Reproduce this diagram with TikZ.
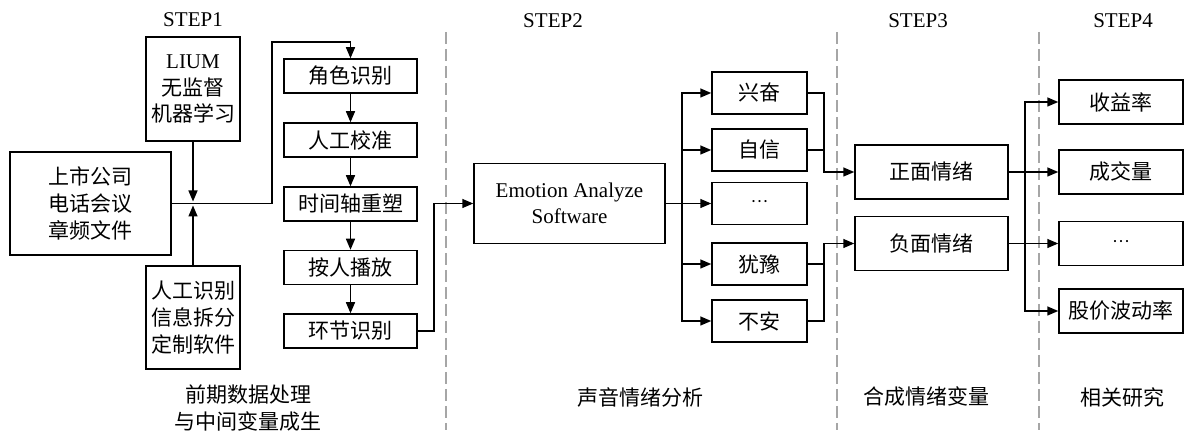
\documentclass[tikz,border=0pt]{standalone}
\usepackage{fontspec}
\setmainfont{Liberation Serif}
\newfontfamily\cjk{Noto Sans CJK SC}
\usetikzlibrary{arrows.meta, calc}

\tikzset{
  box/.style = {draw, line width=0.75pt, inner sep=0pt, align=center,
                font=\cjk\fontsize{10.5}{13.3}\selectfont},
  flow/.style = {line width=0.75pt, -{Triangle[length=5.5pt, width=4.5pt]}},
  link/.style = {line width=0.75pt},
  sep/.style  = {gray!70, line width=0.6pt, dash pattern=on 6pt off 2.5pt},
  steplabel/.style = {font=\fontsize{10.5}{12}\selectfont},
  stagelabel/.style = {align=center, font=\cjk\fontsize{10.5}{13.3}\selectfont}
}
\newcommand{\middots}{{\rmfamily\fontsize{9}{9}\selectfont ···}}

\begin{document}
\begin{tikzpicture}[x=0.5pt, y=-0.5pt]
		\useasboundingbox (0,0) rectangle (1184,432);
		
		%stage separators
		\draw [sep] (446,32) -- (446,430);
		\draw [sep] (837,32) -- (837,430);
		\draw [sep] (1039,32) -- (1039,430);
		
		%step titles
		\node [steplabel] (s1) at (193,20) {STEP1};
		\node [steplabel] (s2) at (553,21) {STEP2};
		\node [steplabel] (s3) at (918,21) {STEP3};
		\node [steplabel] (s4) at (1123,21) {STEP4};
		
		%step 1: input and preprocessing
		\node [box, minimum width=80.5pt, minimum height=51.5pt] (src) at (90.5,203.5) {上市公司\\电话会议\\章频文件};
		\node [box, minimum width=47pt, minimum height=52pt] (lium) at (193,89) {{\rmfamily LIUM}\\无监督\\机器学习};
		\node [box, minimum width=47pt, minimum height=51.5pt] (man) at (193,317.5) {人工识别\\信息拆分\\定制软件};
		\coordinate (jn) at (lium.south |- src.east);
		
		\node [box, minimum width=66.5pt, minimum height=17pt] (b1) at (350.5,76) {角色识别};
		\node [box, minimum width=66.5pt, minimum height=17pt] (b2) at (350.5,140) {人工校准};
		\node [box, minimum width=66.5pt, minimum height=17pt] (b3) at (350.5,204) {时间轴重塑};
		\node [box, minimum width=66.5pt, minimum height=17pt] (b4) at (350.5,267.5) {按人播放};
		\node [box, minimum width=66.5pt, minimum height=17pt] (b5) at (350.5,331) {环节识别};
		
		\coordinate (turn) at (272,42);
		\draw [flow, shorten >=1pt] (lium) -- (jn);
		\draw [flow, shorten >=1pt] (man) -- (jn);
		\draw [flow] (src.east) -| (turn) -| (b1.north);
		\foreach \i/\j in {b1/b2, b2/b3, b3/b4, b4/b5}
			\draw [flow] (\i) -- (\j);
		
		%step 2: emotion analysis
		\node [box, font=\fontsize{10.5}{13.3}\selectfont, minimum width=95.5pt, minimum height=40pt] (emo) at (569.5,203.5) {Emotion Analyze\\Software};
		\draw [flow] (b5.east) -- ++(16,0) |- (emo.west);
		
		\node [box, minimum width=47.5pt, minimum height=21pt] (e1) at (759.5,93) {兴奋};
		\node [box, minimum width=47.5pt, minimum height=21pt] (e2) at (759.5,150) {自信};
		\node [box, minimum width=47.5pt, minimum height=21pt] (e3) at (759.5,203.5) {\middots};
		\node [box, minimum width=47.5pt, minimum height=21pt] (e4) at (759.5,264) {犹豫};
		\node [box, minimum width=47.5pt, minimum height=21pt] (e5) at (759.5,321) {不安};
		
		\coordinate (split) at (682,203.5);
		\draw [link] (emo.east) -- (split);
		\foreach \e in {e1, e2, e3, e4, e5}
			\draw [flow] (split) |- (\e.west);
		
		%step 3: combined emotion
		\node [box, minimum width=76.5pt, minimum height=27pt] (pos) at (931.5,172) {正面情绪};
		\node [box, minimum width=76.5pt, minimum height=27pt] (neg) at (931.5,243.5) {负面情绪};
		
		\coordinate (merge) at (824,0);
		\draw [flow] (e1.east) -| (merge |- pos.west) -- (pos.west);
		\draw [link] (e2.east) -- (merge |- e2.east);
		\draw [flow] (e5.east) -| (merge |- neg.west) -- (neg.west);
		\draw [link] (e4.east) -- (merge |- e4.east);
		
		%step 4: related variables
		\node [box, minimum width=62pt, minimum height=22pt] (r1) at (1121,102) {收益率};
		\node [box, minimum width=62pt, minimum height=22pt] (r2) at (1121,172) {成交量};
		\node [box, minimum width=62pt, minimum height=22pt] (r3) at (1121,243.5) {\middots};
		\node [box, minimum width=62pt, minimum height=22pt] (r4) at (1121,311) {股价波动率};
		
		\coordinate (rsplit) at (1025,0);
		\draw [flow] (pos.east) -- (r2.west);
		\draw [flow] (neg.east) -- (r3.west);
		\draw [flow] (rsplit |- pos.east) |- (r1.west);
		\draw [flow] (rsplit |- pos.east) |- (r4.west);
		
		%stage names
		\node [stagelabel] (t1) at (248,408) {前期数据处理\\与中间变量成生};
		\node [stagelabel] (t2) at (640,397) {声音情绪分析};
		\node [stagelabel] (t3) at (926,397) {合成情绪变量};
		\node [stagelabel] (t4) at (1122,397) {相关研究};
	\end{tikzpicture}
\end{document}
